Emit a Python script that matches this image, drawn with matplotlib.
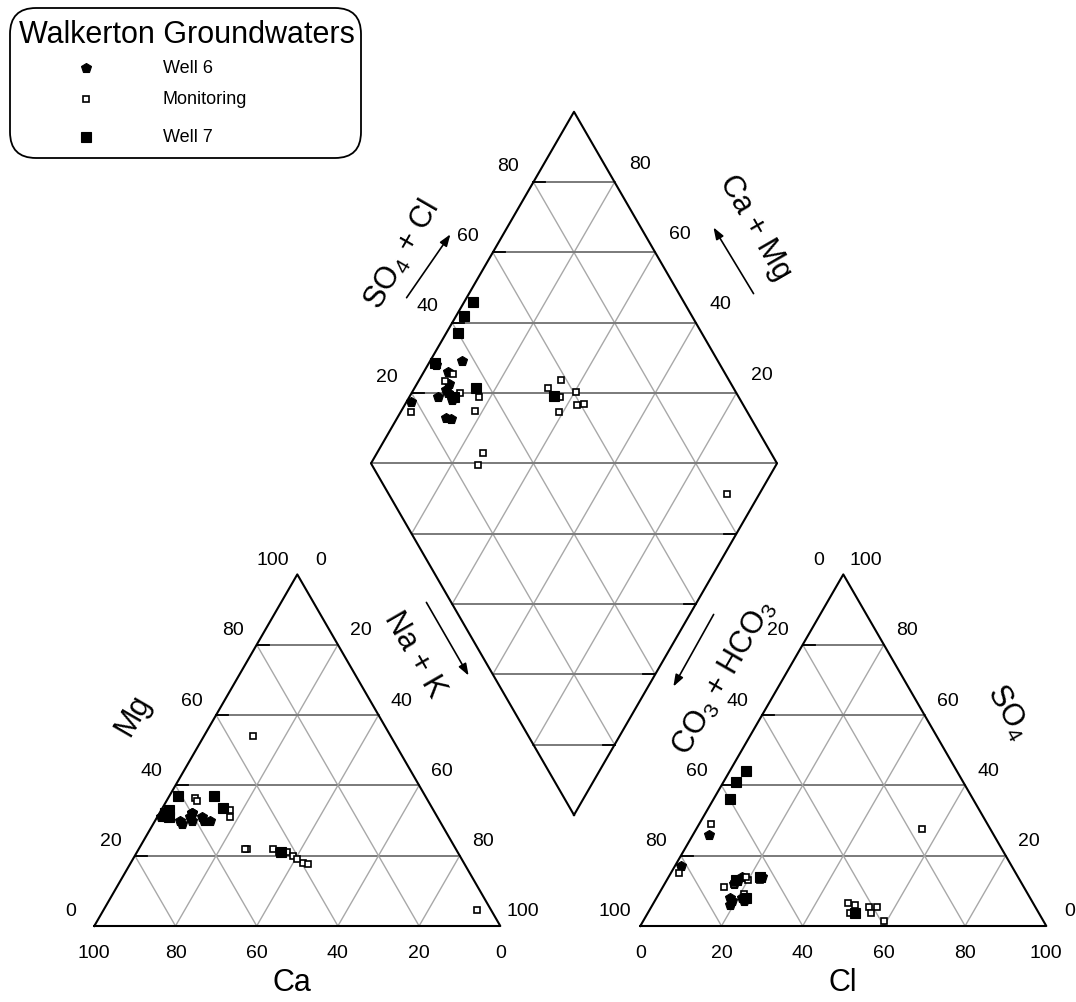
import numpy as np
import matplotlib.pyplot as plt
from matplotlib.patches import FancyBboxPatch

plt.rcParams['font.family'] = ['Liberation Sans', 'DejaVu Sans']
plt.rcParams['mathtext.fontset'] = 'custom'
plt.rcParams['mathtext.rm'] = 'Liberation Sans'
plt.rcParams['mathtext.default'] = 'regular'

# --- data: % meq, cations (Mg, Na+K; Ca is the rest), anions (SO4, Cl; CO3+HCO3 is the rest)
well6_mg = [31, 32, 30, 31, 30, 32, 31, 30, 29, 30, 31]
well6_nak = [2, 8, 6, 8, 9, 8, 11, 12, 7, 13.5, 1]
well6_so4 = [26, 14, 14, 12, 8, 13, 7, 6, 7, 8, 17]
well6_cl = [4, 23, 18, 17, 21, 17.5, 22, 19, 19, 18, 1.5]

mon_mg = [37, 54, 36.5, 35.5, 33, 31, 22, 22, 22, 21, 20, 18, 17.5, 21, 19, 4.6]
mon_nak = [2.5, 12, 6.5, 7.5, 17, 18, 26.5, 26, 33, 37, 39, 42.5, 44, 35, 40.5, 92]
mon_so4 = [15, 29, 9, 13, 13, 14, 11, 12, 6.4, 6, 3.8, 5.5, 5.3, 3.6, 1.5, 27.6]
mon_cl = [2, 3, 21, 20, 23, 19, 15, 17, 48, 50, 49.8, 53.7, 55.6, 55, 59.2, 55.7]

well7_mg = [37, 33, 31, 37, 33.5, 21, 32]
well7_nak = [2, 2, 3, 11, 15, 35.5, 1.5]
well7_so4 = [44, 41, 36, 13, 14, 3.8, 8]
well7_cl = [4, 3, 4, 17, 22.5, 51, 22]

tick_vals = [0, 20, 40, 60, 80, 100]

# --- geometry (pixel space)
W = 406.0
H = W * np.sqrt(3) / 2
BASE = 926
CAT_X0 = 94.3
AN_X0 = 640.3
D_BX, D_BY = 574, 815

HCOL = '#7a7a7a'
DCOL = '#a8a8a8'


def tri_xy(x0, top, right):
    top = np.asarray(top, float)
    right = np.asarray(right, float)
    return x0 + (right + top / 2) / 100 * W, BASE - top / 100 * H


def dia_xy(cam, socl):
    cam = np.asarray(cam, float)
    socl = np.asarray(socl, float)
    return D_BX + (socl - cam) / 100 * W / 2, D_BY - (socl + cam) / 100 * H


fig = plt.figure(figsize=(10.76, 10.02), dpi=100)
ax = fig.add_axes([0, 0, 1, 1])
ax.set_xlim(0, 1076)
ax.set_ylim(1002, 0)
ax.axis('off')


def tick(x, y, dx):
    ax.plot([x, x + dx], [y, y], color='k', lw=1.3, zorder=3)


def draw_triangle(x0):
    for k in [20, 40, 60, 80]:
        # horizontal
        xs, ys = tri_xy(x0, [k, k], [0, 100 - k])
        ax.plot(xs, ys, color=HCOL, lw=1.4, zorder=1)
        tick(xs[0], ys[0], 12)
        xs, ys = tri_xy(x0, [0, 100 - k], [k, k])
        ax.plot(xs, ys, color=DCOL, lw=1.0, zorder=1)
        xs, ys = tri_xy(x0, [0, 100 - k], [100 - k, 0])
        ax.plot(xs, ys, color=DCOL, lw=1.0, zorder=1)
    xs, ys = tri_xy(x0, [0, 0, 100, 0], [0, 100, 0, 0])
    ax.plot(xs, ys, color='k', lw=1.5, zorder=2)


def draw_diamond():
    for k in [20, 40, 60, 80]:
        xs, ys = dia_xy([k, k], [0, 100])
        ax.plot(xs, ys, color=DCOL, lw=1.0, zorder=1)
        xs, ys = dia_xy([0, 100], [k, k])
        ax.plot(xs, ys, color=DCOL, lw=1.0, zorder=1)
    for t in range(20, 181, 20):
        if t <= 100:
            xs, ys = dia_xy([t, 0], [0, t])
        else:
            xs, ys = dia_xy([100, t - 100], [t - 100, 100])
        ax.plot(xs, ys, color=HCOL, lw=1.4, zorder=1)
        if t > 100:
            tick(xs[0], ys[0], 12)
        elif t < 100:
            tick(xs[1], ys[1], -12)
    xs, ys = dia_xy([0, 100, 100, 0, 0], [0, 0, 100, 100, 0])
    ax.plot(xs, ys, color='k', lw=1.5, zorder=2)


draw_triangle(CAT_X0)
draw_triangle(AN_X0)
draw_diamond()

tk = dict(fontsize=14, ha='center', va='center')
for v in tick_vals:
    # cation triangle
    ax.text(CAT_X0 + (100 - v) / 100 * W, 953, str(v), **tk)
    x, y = tri_xy(CAT_X0, v, 0)
    ax.text(x - 24, y - 14, str(v), **tk)
    x, y = tri_xy(CAT_X0, 100 - v, v)
    ax.text(x + 23, y - 14, str(v), **tk)
    # anion triangle
    ax.text(AN_X0 + v / 100 * W, 953, str(v), **tk)
    x, y = tri_xy(AN_X0, v, 0)
    ax.text(x - 25, y - 14, str(100 - v), **tk)
    x, y = tri_xy(AN_X0, v, 100 - v)
    ax.text(x + 23, y - 14, str(v), **tk)
for v in [20, 40, 60, 80]:
    x, y = dia_xy(100, v)
    ax.text(x - 25, y - 16, str(v), **tk)
    x, y = dia_xy(v, 100)
    ax.text(x + 25, y - 18, str(v), **tk)

lab = dict(fontsize=22, ha='center', va='center')
ax.text(292, 983, 'Ca', **lab)
ax.text(843, 983, 'Cl', **lab)
ax.text(133, 715, 'Mg', rotation=60, **lab)
ax.text(414, 655, 'Na + K', rotation=-60, **lab)
ax.text(402, 255, r'SO$_4$ + Cl', rotation=60, **lab)
ax.text(755, 228, 'Ca + Mg', rotation=-60, **lab)
ax.text(724, 678, r'CO$_3$ + HCO$_3$', rotation=60, **lab)
ax.text(1008, 712, r'SO$_4$', rotation=-60, **lab)

arr = dict(arrowstyle='-|>,head_length=0.7,head_width=0.25', color='k', lw=1.2)
for tail, head in [((405, 300), (452, 232)), ((755, 296), (712, 225)),
                   ((425, 600), (470, 678)), ((715, 612), (672, 689))]:
    ax.annotate('', xy=head, xytext=tail, arrowprops=arr)

# --- samples
styles = [
    (well6_mg, well6_nak, well6_so4, well6_cl,
     dict(marker='p', ms=7.2, mfc='k', mec='k', mew=0.8)),
    (mon_mg, mon_nak, mon_so4, mon_cl,
     dict(marker='s', ms=4.8, mfc='white', mec='k', mew=1.2)),
    (well7_mg, well7_nak, well7_so4, well7_cl,
     dict(marker='s', ms=7.5, mfc='k', mec='k', mew=0.8)),
]
for mg, nak, so4, cl, st in styles:
    mg, nak, so4, cl = map(np.asarray, (mg, nak, so4, cl))
    x, y = tri_xy(CAT_X0, mg, nak)
    ax.plot(x, y, ls='none', zorder=4, **st)
    x, y = tri_xy(AN_X0, so4, cl)
    ax.plot(x, y, ls='none', zorder=4, **st)
    x, y = dia_xy(100 - nak, so4 + cl)
    ax.plot(x, y, ls='none', zorder=4, **st)

# --- legend box
box = FancyBboxPatch((10, 8), 351, 150, boxstyle='round,pad=0,rounding_size=26',
                     fc='white', ec='k', lw=1.3, zorder=5)
ax.add_patch(box)
ax.text(187, 35, 'Walkerton Groundwaters', fontsize=22, ha='center', va='center', zorder=6)
leg_names = ['Well 6', 'Monitoring', 'Well 7']
leg_y = [68, 99, 137]
for (_, _, _, _, st), name, yy in zip(styles, leg_names, leg_y):
    ax.plot([86], [yy], ls='none', zorder=6, **st)
    ax.text(163, yy, name, fontsize=13, ha='left', va='center', zorder=6)

fig.savefig('out.png', dpi=100)
